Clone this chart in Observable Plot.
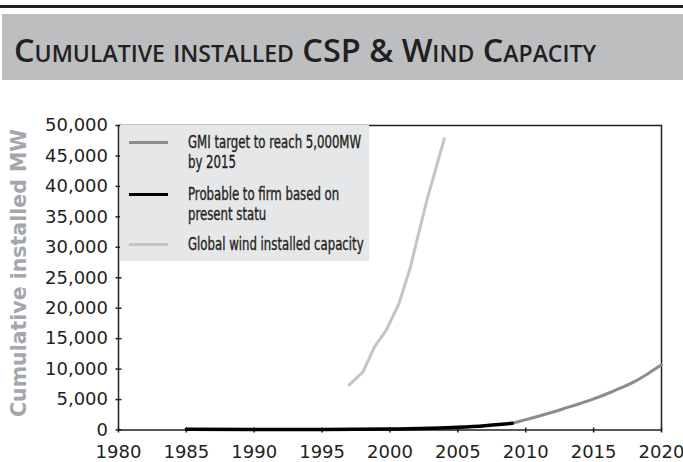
<!DOCTYPE html>
<html>
<head>
<meta charset="utf-8">
<script src="https://cdn.jsdelivr.net/npm/d3@7"></script>
<script src="https://cdn.jsdelivr.net/npm/@observablehq/plot@0.6"></script>
<style>
  html, body { margin: 0; padding: 0; background: #fff; }
  #wrap { position: relative; width: 683px; height: 462px; overflow: hidden; }
  #rule { position: absolute; left: 0; top: 5px; width: 683px; height: 3px; background: #231f20; }
  #banner { position: absolute; left: 2px; top: 14px; width: 681px; height: 66px; background: #bcbec0; }
  #title { position: absolute; left: 14px; top: 34px; font-family: "Open Sans", Lato, sans-serif; font-weight: 600;
           font-size: 32.5px; font-variant: small-caps; color: #231f20; white-space: nowrap; line-height: 1; }
  #chart { position: absolute; left: 0; top: 80px; }
  #legend { position: absolute; left: 120px; top: 125px; width: 249px; height: 136px; background: #e6e7e8; }
  .lg-line { position: absolute; left: 9px; width: 39px; height: 3px; }
  .lg-text { position: absolute; left: 68px; font-family: "Liberation Sans Narrow", "DejaVu Sans Condensed", sans-serif;
             font-weight: normal; font-size: 17.5px; color: #231f20; line-height: 20px; white-space: nowrap;
             -webkit-text-stroke: 0.35px #231f20;
             transform: scaleX(0.745); transform-origin: 0 0; }
  #ylab { position: absolute; left: 19px; top: 273px; transform: translate(-50%, -50%) rotate(-90deg);
          font-family: "DejaVu Sans", sans-serif; font-weight: bold; font-size: 20.5px; color: #a5a7aa; white-space: nowrap; }
</style>
</head>
<body>
<div id="wrap">
  <div id="rule"></div>
  <div id="banner"></div>
  <div id="title">Cumulative installed CSP &amp; Wind Capacity</div>
  <div id="chart"></div>
  <div id="legend"></div>
  <div id="ylab">Cumulative installed MW</div>
</div>
<script>
// ---- data ----
const windYears  = [1997, 1998, 1998.85, 1999.7, 2000.65, 2001.5, 2002, 2002.75, 2004];
const windValues = [7400, 9500, 13600, 16300, 20700, 26700, 31300, 38000, 47850];

const probYears  = [1985, 1990, 1995, 2000, 2003, 2005, 2007, 2009];
const probValues = [120, 100, 100, 160, 300, 450, 700, 1100];

const gmiYears  = [2009, 2010, 2011, 2012, 2013, 2014, 2015, 2016, 2017, 2018, 2019, 2020];
const gmiValues = [1100, 1700, 2300, 2950, 3650, 4350, 5100, 5950, 6900, 7950, 9250, 10700];

const xTicks = [1980, 1985, 1990, 1995, 2000, 2005, 2010, 2015, 2020];
const yTicks = [0, 5000, 10000, 15000, 20000, 25000, 30000, 35000, 40000, 45000, 50000];

const seriesNames = ["GMI target to reach 5,000MW\nby 2015", "Probable to firm based on\npresent statu", "Global wind installed capacity"];
const seriesColors = ["#8c8c8c", "#000000", "#c4c4c4"];

const toRows = (xs, ys) => xs.map((x, i) => ({x, y: ys[i]}));
const wind = toRows(windYears, windValues);
const prob = toRows(probYears, probValues);
const gmi = toRows(gmiYears, gmiValues);

const tickFont = "DejaVu Sans, sans-serif";

const chart = Plot.plot({
  width: 683,
  height: 382,
  marginLeft: 118,
  marginRight: 22,
  marginTop: 45,
  marginBottom: 32.5,
  style: {fontFamily: tickFont, fontSize: "18px", color: "#231f20", background: "transparent"},
  x: {domain: [1980, 2020], ticks: xTicks, tickFormat: d => String(d)},
  y: {domain: [0, 50000], ticks: yTicks, tickFormat: d3.format(",")},
  marks: [
    Plot.frame({stroke: "#231f20", strokeWidth: 1.5}),
    Plot.axisY({ticks: yTicks, tickFormat: d3.format(","), tickSize: 6, dx: 3.5, tickPadding: 8, label: null, stroke: "#231f20", strokeWidth: 1.5, fontSize: 18}),
    Plot.axisX({ticks: xTicks, tickFormat: d => String(d), tickSize: 5, dy: -2, tickPadding: 12, label: null, stroke: "#231f20", strokeWidth: 1.5, fontSize: 18}),
    Plot.line(gmi, {x: "x", y: "y", stroke: seriesColors[0], strokeWidth: 3, curve: "monotone-x"}),
    Plot.line(prob, {x: "x", y: "y", stroke: seriesColors[1], strokeWidth: 3.5, curve: "monotone-x"}),
    Plot.line(wind, {x: "x", y: "y", stroke: seriesColors[2], strokeWidth: 3, curve: "linear"})
  ]
});
document.getElementById("chart").appendChild(chart);

// legend overlay
const legend = document.getElementById("legend");
const lineTops = [17, 69, 119];
const textTops = [7, 59, 109];
seriesNames.forEach((name, i) => {
  const ln = document.createElement("div");
  ln.className = "lg-line";
  ln.style.top = (lineTops[i] - 1.5) + "px";
  ln.style.background = seriesColors[i];
  legend.appendChild(ln);
  const tx = document.createElement("div");
  tx.className = "lg-text";
  tx.style.top = textTops[i] + "px";
  tx.innerHTML = name.split("\n").join("<br>");
  legend.appendChild(tx);
});
</script>
</body>
</html>
